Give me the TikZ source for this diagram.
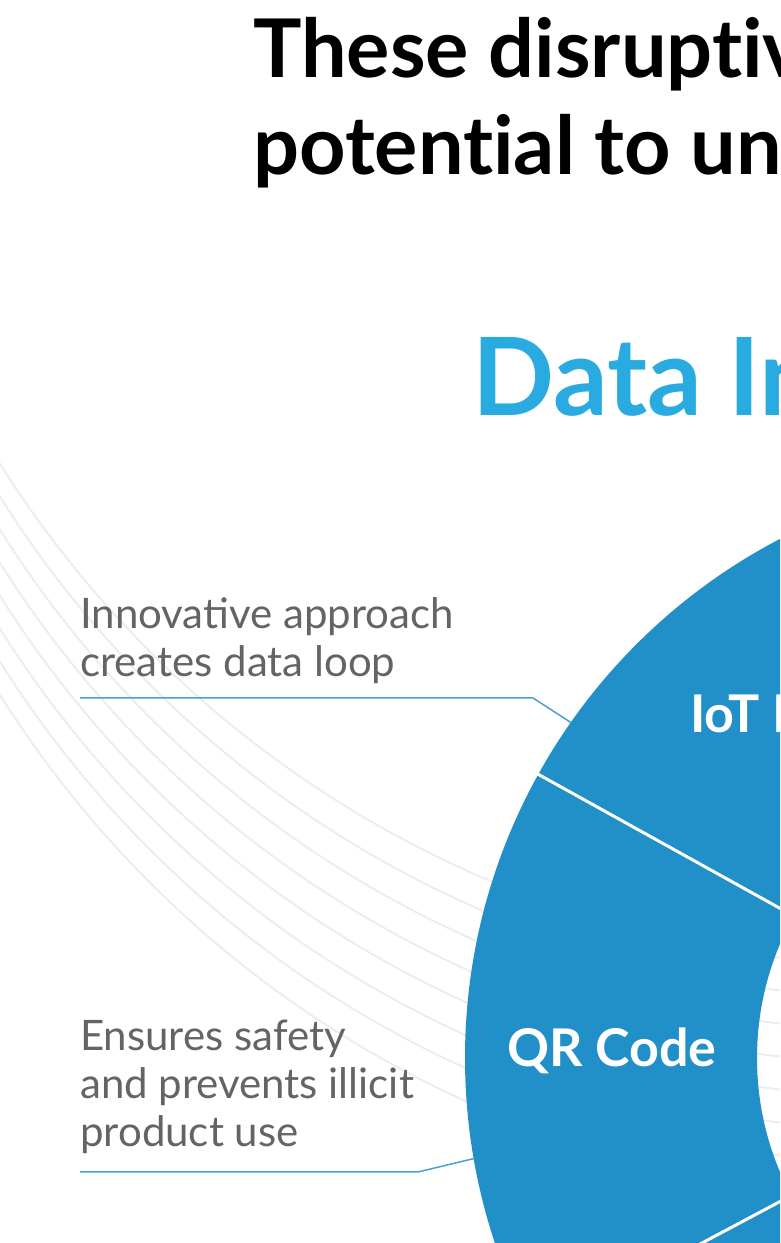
\documentclass[tikz,border=0pt]{standalone}
\usepackage{fontspec}
\setmainfont{Lato}
\usetikzlibrary{calc,positioning}
\definecolor{ringblue}{HTML}{2290C8}
\definecolor{headblue}{HTML}{29ABE2}
\definecolor{pinblue}{HTML}{4A9FD9}
\definecolor{notegray}{HTML}{646464}
\definecolor{arcgray}{HTML}{EDEDED}
\tikzset{
  note/.style={anchor=base west,inner sep=0pt,align=left,text=notegray,font=\fontsize{42}{48}\selectfont},
  pinline/.style={pinblue,line width=1.5pt},
  seglabel/.style={anchor=base west,inner sep=0pt,text=white,font=\bfseries\fontsize{52}{60}\selectfont},
}
\begin{document}
\begin{tikzpicture}[x=1pt,y=1pt]
          \useasboundingbox (0,0) rectangle (780,1243);
          \clip (0,0) rectangle (780,1243);
          \foreach \k in {0,...,7} \draw[arcgray,line width=2pt] (907,1349-33*\k) circle (1071);
          \coordinate (ring) at (1050,185);
          \fill[ringblue,even odd rule] (ring) circle (585) (ring) circle (293);
          \foreach \a in {151,208} \draw[white,line width=3pt] ($(ring)+(\a:292)$)--($(ring)+(\a:586)$);
          % multi-line nodes sit on the baseline of their last line
          \node[font=\bfseries\fontsize{81}{97}\selectfont\addfontfeatures{Ligatures=NoCommon},anchor=base west,inner sep=0pt,align=left] (headline) at (253,1068) {These disruptive\\potential to un};
          \node[text=headblue,font=\bfseries\fontsize{108}{120}\selectfont,anchor=base west,inner sep=0pt] (datahead) at (472,827) {Data In};
          \node[seglabel] (iotlabel) at (690,510) {IoT Device};
          \node[seglabel] (qrlabel) at (507,176) {QR Code};
          \node[note] (loopnote) at (80,566) {Innovative approach\\creates data loop};
          \node[note] (safenote) at (80,96) {Ensures safety\\and prevents illicit\\product use};
          \coordinate (loopbend) at (533,545);
          \draw[pinline] (loopnote.west |- loopbend) -- (loopbend) -- ($(ring)+(145:585)$);
          \coordinate (safebend) at (418,71);
          \draw[pinline] (safenote.west |- safebend) -- (safebend) -- ($(ring)+(189.9:585)$);
\end{tikzpicture}
\end{document}
